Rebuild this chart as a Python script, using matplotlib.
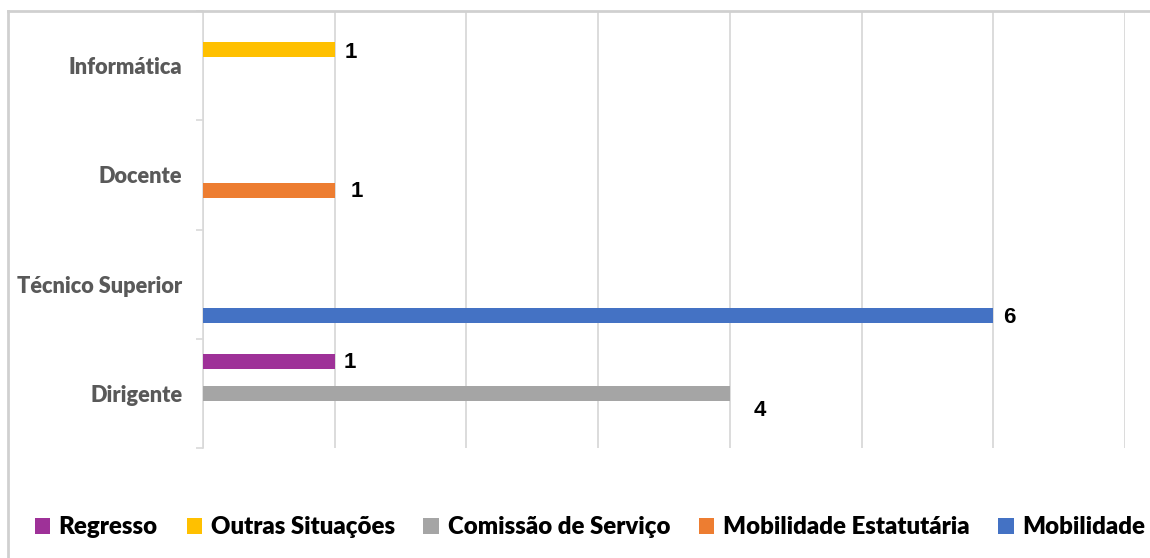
import numpy as np
import matplotlib.pyplot as plt
from matplotlib.lines import Line2D
from matplotlib.patches import Patch

# categories bottom to top
categories = ['Dirigente', 'Técnico Superior', 'Docente', 'Informática']

# series values (order: bottom slot to top slot inside each band)
mobilidade = [0, 6, 0, 0]
mobilidade_estatutaria = [0, 0, 1, 0]
comissao_servico = [4, 0, 0, 0]
outras_situacoes = [0, 0, 0, 1]
regresso = [1, 0, 0, 0]

series_names = ['Mobilidade', 'Mobilidade Estatutária', 'Comissão de Serviço',
                'Outras Situações', 'Regresso']
series_values = [mobilidade, mobilidade_estatutaria, comissao_servico,
                 outras_situacoes, regresso]
colors = ['#4472C4', '#ED7D31', '#A5A5A5', '#FFC000', '#9E3198']

# label offsets in pixels (x, y) relative to bar end, by (series idx, category idx)
label_offsets = {
    (0, 1): (16, -2),
    (1, 2): (22, -1),
    (2, 0): (30, -17),
    (3, 3): (16, -3),
    (4, 0): (15, -1),
}

fig = plt.figure(figsize=(11.5, 5.58), dpi=100)
ax = fig.add_axes([203 / 1150, 1 - 448 / 558, (1125 - 203) / 1150, (448 - 11) / 558])

slot = 0.145
bar_h = 0.135
y = np.arange(len(categories))

for i, (name, vals, col) in enumerate(zip(series_names, series_values, colors)):
    pos = y + (i - 2) * slot
    ax.barh(pos, vals, height=bar_h, color=col, label=name, zorder=3)
    for j, v in enumerate(vals):
        if v:
            dx, dy = label_offsets.get((i, j), (15, 0))
            ax.annotate(str(v), (v, pos[j]), xytext=(dx, dy), textcoords='offset pixels',
                        ha='center', va='center', fontsize=16, fontweight='bold',
                        family='Liberation Sans', color='black', zorder=4)

ax.set_xlim(0, 7)
ax.set_ylim(-0.5, 3.5)
ax.set_xticks(np.arange(0, 8))
ax.xaxis.grid(True, color='#d9d9d9', linewidth=1.3, zorder=0)
ax.tick_params(axis='x', length=0, labelbottom=False)

ax.set_yticks(y)
ax.set_yticklabels(categories, family='Lato', fontweight='heavy', fontsize=15.7, color='#595959')
ax.set_yticks(np.arange(-0.5, 4.0, 1.0), minor=True)
ax.tick_params(axis='y', which='major', length=0, pad=15)
ax.tick_params(axis='y', which='minor', length=5, color='#d9d9d9', width=1.2)

for s in ['top', 'right', 'bottom']:
    ax.spines[s].set_visible(False)
ax.spines['left'].set_color('#d9d9d9')
ax.spines['left'].set_linewidth(1.2)

# outer chart frame (cropped on the right and bottom)
fx = 8 / 1150
fy = 1 - 11 / 558
fig.add_artist(Line2D([fx, fx], [0, fy], transform=fig.transFigure, color='#d0d0d0', linewidth=2))
fig.add_artist(Line2D([fx, 1], [fy, fy], transform=fig.transFigure, color='#d0d0d0', linewidth=2))

handles = [Patch(facecolor=c, label=n) for n, c in zip(series_names, colors)][::-1]
fig.legend(handles=handles, loc='center', bbox_to_anchor=(0.513, 1 - 527 / 558), ncol=5,
           frameon=False, handlelength=0.65, handleheight=0.65, handletextpad=0.35,
           columnspacing=1.2, prop={'family': 'Lato', 'weight': 'heavy', 'size': 17.3})

fig.savefig('out.png', dpi=100, facecolor='white')
